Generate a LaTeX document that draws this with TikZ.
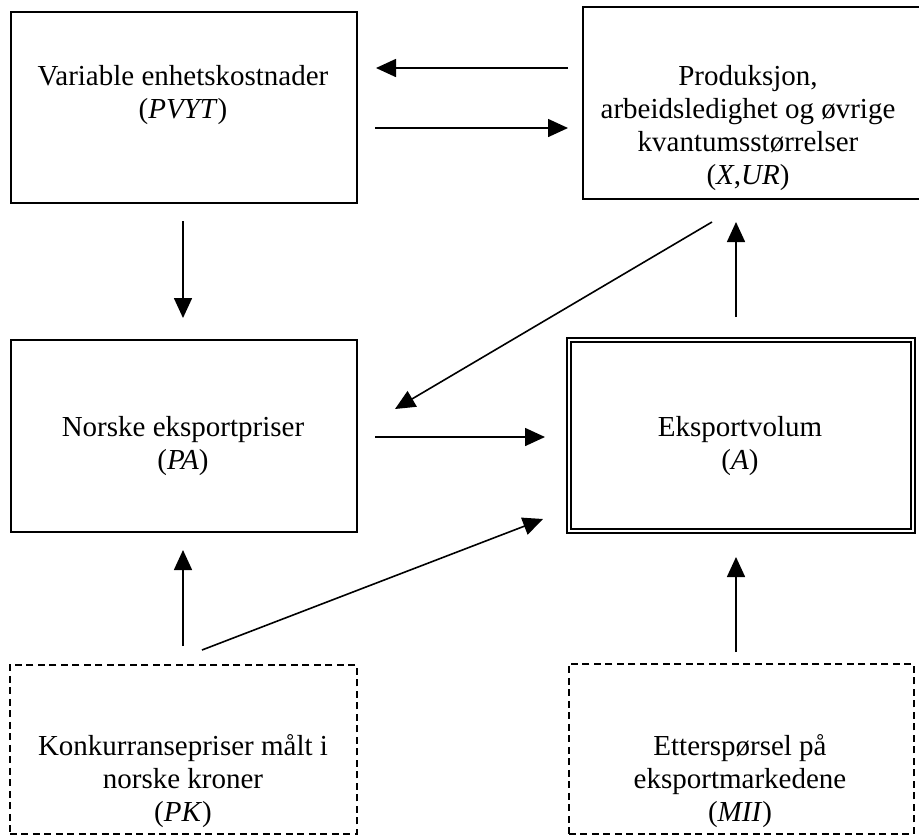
\documentclass[tikz,border=0pt]{standalone}
\usepackage{fontspec}
\setmainfont{Liberation Serif}
\usetikzlibrary{arrows.meta}
\begin{document}
\begin{tikzpicture}[x=1pt,y=-1pt,
  box/.style={draw, line width=1.6pt, rectangle, inner sep=0pt, anchor=north west},
  dbox/.style={draw, line width=2.2pt, double, double distance=2pt, rectangle, inner sep=0pt, anchor=north west},
  dbox2/.style={box, dash pattern=on 7pt off 4.5pt},
  txt/.style={align=center, inner sep=0pt, font=\fontsize{29}{33}\selectfont},
  arr/.style={line width=1.6pt, -{Triangle[length=20pt,width=18pt]}}]
\useasboundingbox (0,0) rectangle (919,836);

% boxes
\node[box, minimum width=346pt, minimum height=191pt] (cost) at (10,11) {};
\node[box, minimum width=345pt, minimum height=192pt] (prod) at (582,6) {};
\node[box, minimum width=346pt, minimum height=192pt] (price) at (10,339) {};
\node[dbox, minimum width=344pt, minimum height=191pt] (vol) at (568,339) {};
\node[dbox2, minimum width=347pt, minimum height=169pt] (comp) at (9,664) {};
\node[dbox2, minimum width=345pt, minimum height=170pt] (dem) at (568,663) {};

% texts
\node[txt] (costT) at (183,95) {Variable enhetskostnader\\(\textit{PVYT})};
\node[txt] (prodT) at (748,128) {Produksjon,\\arbeidsledighet og øvrige\\kvantumsstørrelser\\(\textit{X},\textit{UR})};
\node[txt] (priceT) at (183,446) {Norske eksportpriser\\(\textit{PA})};
\node[txt] (volT) at (740,446) {Eksportvolum\\(\textit{A})};
\node[txt] (compT) at (183,781) {Konkurransepriser målt i\\norske kroner\\(\textit{PK})};
\node[txt] (demT) at (740,781) {Etterspørsel på\\eksportmarkedene\\(\textit{MII})};

% connector end points
\coordinate (a1s) at (568,68);  \coordinate (a1e) at (376,68);
\coordinate (a2s) at (375,128); \coordinate (a2e) at (568,128);
\coordinate (a3s) at (183,221); \coordinate (a3e) at (183,318);
\coordinate (a4s) at (712,222); \coordinate (a4e) at (395,409);
\coordinate (a5s) at (736,317); \coordinate (a5e) at (736,222);
\coordinate (a6s) at (375,437); \coordinate (a6e) at (545,437);
\coordinate (a7s) at (183,646); \coordinate (a7e) at (183,550);
\coordinate (a8s) at (202,650); \coordinate (a8e) at (543,519);
\coordinate (a9s) at (736,652); \coordinate (a9e) at (736,557);

% connectors
\draw[arr] (a1s) -- (a1e);
\draw[arr] (a2s) -- (a2e);
\draw[arr] (a3s) -- (a3e);
\draw[arr] (a4s) -- (a4e);
\draw[arr] (a5s) -- (a5e);
\draw[arr] (a6s) -- (a6e);
\draw[arr] (a7s) -- (a7e);
\draw[arr] (a8s) -- (a8e);
\draw[arr] (a9s) -- (a9e);
\end{tikzpicture}
\end{document}
